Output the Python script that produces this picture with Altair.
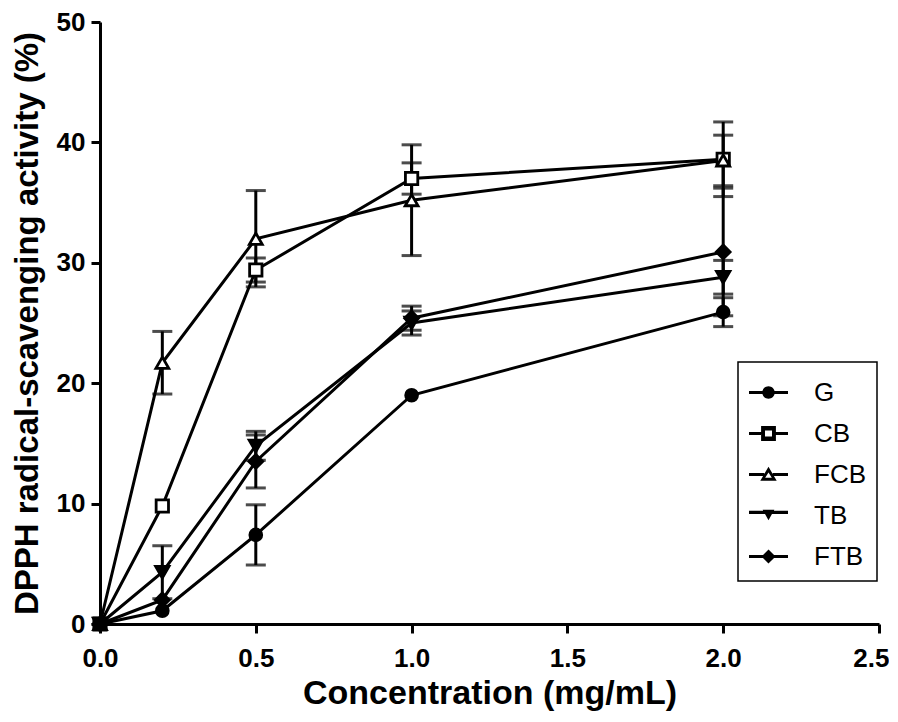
import altair as alt
import pandas as pd

conc = [0.0, 0.2, 0.5, 1.0, 2.0]
series_names = ["G", "CB", "FCB", "TB", "FTB"]

G_vals = [0.0, 1.1, 7.4, 19.0, 25.9]
G_err = [0.0, 0.0, 2.5, 0.0, 1.2]
CB_vals = [0.0, 9.8, 29.4, 37.0, 38.6]
CB_err = [0.0, 0.0, 1.0, 1.3, 3.1]
FCB_vals = [0.0, 21.7, 32.0, 35.2, 38.5]
FCB_err = [0.0, 2.6, 4.0, 4.6, 2.1]
TB_vals = [0.0, 4.3, 14.8, 25.0, 28.8]
TB_err = [0.0, 2.2, 1.2, 1.0, 1.4]
FTB_vals = [0.0, 2.0, 13.5, 25.4, 30.9]
FTB_err = [0.0, 0.0, 2.2, 1.0, 5.3]

x_ticks = [0.0, 0.5, 1.0, 1.5, 2.0, 2.5]
y_ticks = [0, 10, 20, 30, 40, 50]

values = {"G": G_vals, "CB": CB_vals, "FCB": FCB_vals, "TB": TB_vals, "FTB": FTB_vals}
errors = {"G": G_err, "CB": CB_err, "FCB": FCB_err, "TB": TB_err, "FTB": FTB_err}

rows = []
for s in series_names:
    for c, v, e in zip(conc, values[s], errors[s]):
        rows.append({"conc": c, "series": s, "value": v, "err": e,
                     "lo": v - e, "hi": v + e})
df = pd.DataFrame(rows)
err_df = df[df["err"] > 0]

FONT = "Liberation Sans"

x_enc = alt.X("conc:Q",
              scale=alt.Scale(domain=[0, 2.5], nice=False, zero=False),
              axis=alt.Axis(values=x_ticks, format=".1f", title="Concentration (mg/mL)",
                            labelFontSize=26, labelFontWeight="bold", labelFont=FONT,
                            labelColor="black", labelPadding=12, labelFlush=False,
                            labelAlign={"expr": "datum.value == 2.5 ? 'right' : 'center'"},
                            labelOffset={"expr": "datum.value == 2.5 ? 10 : 0"},
                            titleFontSize=34, titleFontWeight="bold", titleFont=FONT,
                            titleColor="black", titlePadding=5,
                            tickSize=9, tickWidth=3, tickColor="black",
                            domainWidth=3, domainColor="black", grid=False))
y_enc = alt.Y("value:Q",
              scale=alt.Scale(domain=[0, 50], nice=False),
              axis=alt.Axis(values=y_ticks, format="d",
                            title="DPPH radical-scavenging activity (%)",
                            labelFontSize=26, labelFontWeight="bold", labelFont=FONT,
                            labelColor="black", labelPadding=6, labelFlush=False,
                            titleFontSize=33, titleFontWeight="bold", titleFont=FONT,
                            titleColor="black", titlePadding=12,
                            tickSize=9, tickWidth=3, tickColor="black",
                            domainWidth=3, domainColor="black", grid=False))

base = alt.Chart(df).encode(x=x_enc, y=y_enc)

lines = base.mark_line(color="black", strokeWidth=3).encode(
    detail="series:N", order="conc:Q")

rules = alt.Chart(err_df).mark_rule(color="black", strokeWidth=3).encode(
    x=alt.X("conc:Q"), y=alt.Y("lo:Q"), y2="hi:Q")
cap_lo = alt.Chart(err_df).mark_tick(color="black", thickness=3, size=20,
                                     orient="horizontal").encode(
    x=alt.X("conc:Q"), y=alt.Y("lo:Q"))
cap_hi = alt.Chart(err_df).mark_tick(color="black", thickness=3, size=20,
                                     orient="horizontal").encode(
    x=alt.X("conc:Q"), y=alt.Y("hi:Q"))

points = base.mark_point(filled=True, stroke="black", strokeWidth=2.8, opacity=1).encode(
    shape=alt.Shape("series:N",
                    scale=alt.Scale(domain=series_names,
                                    range=["circle", "square", "triangle-up",
                                           "triangle-down", "diamond"]),
                    legend=None),
    fill=alt.Fill("series:N",
                  scale=alt.Scale(domain=series_names,
                                  range=["black", "white", "white", "black", "black"]),
                  legend=None),
    size=alt.Size("series:N",
                  scale=alt.Scale(domain=series_names,
                                  range=[140, 190, 220, 150, 180]),
                  legend=None),
)

# legend symbols: line stubs plus marker, drawn as filled outlines
full = "M-1,-0.08H1V0.08H-1Z"
p_circle = full + "M0.32,0A0.32,0.32 0 1,1 -0.32,0A0.32,0.32 0 1,1 0.32,0Z"
p_square = ("M-1,-0.08H-0.38V0.08H-1Z" + "M0.38,-0.08H1V0.08H0.38Z" +
            "M-0.38,-0.38H0.38V0.38H-0.38Z" + "M-0.18,-0.16V0.16H0.18V-0.16Z")
p_tri = ("M-1,-0.08H-0.22V0.08H-1Z" + "M0.22,-0.08H1V0.08H0.22Z" +
         "M0,-0.4L0.42,0.32H-0.42Z" + "M0,-0.1L-0.17,0.17H0.17Z")
p_tdown = "M-1,-0.24H1V-0.08H-1Z" + "M-0.3,-0.3H0.3L0,0.24Z"
p_diam = full + "M0,-0.36L0.36,0L0,0.36L-0.36,0Z"

legend_layer = base.mark_point(filled=True, color="black", strokeWidth=0).encode(
    shape=alt.Shape("series:N",
                    scale=alt.Scale(domain=series_names,
                                    range=[p_circle, p_square, p_tri, p_tdown, p_diam]),
                    legend=alt.Legend(title=None, orient="none", legendX=638, legendY=340,
                                      symbolSize=1521, symbolFillColor="black",
                                      symbolStrokeWidth=0, symbolOpacity=1,
                                      labelFontSize=26, labelFont=FONT, labelColor="black",
                                      labelOffset=26, rowPadding=8, padding=11,
                                      strokeColor="black"))
).transform_filter("false")

chart = alt.layer(lines, rules, cap_lo, cap_hi, points, legend_layer).resolve_scale(
    shape="independent", fill="independent", size="independent"
).properties(
    width=779, height=602,
    autosize=alt.AutoSizeParams(type="none"),
    padding={"left": 92, "top": 14, "right": 10, "bottom": 88},
    background="white",
).configure_view(stroke=None).configure_legend(strokeWidth=1.5)

chart.save("out.html", embed_options={"renderer": "svg", "actions": False})
